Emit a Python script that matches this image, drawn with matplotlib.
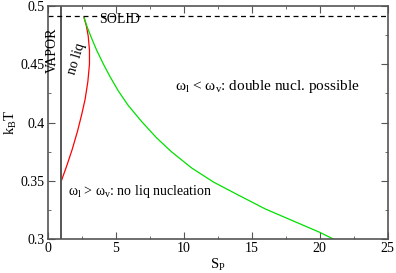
import matplotlib
matplotlib.use("Agg")
import matplotlib.pyplot as plt
from matplotlib.ticker import MultipleLocator, FormatStrFormatter

plt.rcParams["font.family"] = ["Liberation Serif", "DejaVu Serif"]
plt.rcParams["mathtext.fontset"] = "custom"
plt.rcParams["mathtext.rm"] = "Liberation Serif"

# red boundary: no liquid nucleation limit
red_sp = [1.0, 1.4, 1.8, 2.2, 2.5, 2.75, 2.95, 3.07, 3.07, 2.98, 2.84, 2.67]
red_t = [0.35, 0.363, 0.377, 0.393, 0.407, 0.42, 0.435, 0.45, 0.462, 0.474, 0.483, 0.49]

# green boundary: double nucleation limit
green_sp = [2.67, 2.9, 3.2, 3.6, 4.1, 4.6, 5.2, 5.9, 6.9, 8.0, 9.1, 10.6,
            12.2, 14.0, 16.0, 18.0, 20.0, 21.05]
green_t = [0.49, 0.482, 0.473, 0.462, 0.45, 0.439, 0.427, 0.415, 0.401, 0.387,
           0.375, 0.361, 0.349, 0.338, 0.326, 0.316, 0.306, 0.30]

vapor_sp = 1.0
solid_t = 0.491

fig = plt.figure(figsize=(3.96, 2.73), dpi=100)
ax = fig.add_axes([0.1205, 0.1234, 0.8585, 0.855])

ax.plot(red_sp, red_t, color="red", lw=0.9)
ax.plot(green_sp, green_t, color="#00e000", lw=0.9)
ax.axvline(vapor_sp, color="#555555", lw=1.4)
ax.axhline(solid_t, color="black", lw=0.9, ls=(0, (4, 3)))

ax.text(3.8, 0.4855, "SOLID", fontsize=10, va="baseline")
ax.text(0.35, 0.462, "VAPOR", fontsize=10, rotation=90, ha="center", va="center")
ax.text(2.1, 0.455, "no liq", fontsize=10, rotation=73, ha="center", va="center")
ax.text(9.35, 0.4306, r"ω$_\mathrm{l}$ < ω$_\mathrm{v}$: double nucl. possible",
        fontsize=11, va="center")
ax.text(1.5, 0.341, r"ω$_\mathrm{l}$ > ω$_\mathrm{v}$: no liq nucleation",
        fontsize=10, va="center")

ax.set_xlim(0, 25)
ax.set_ylim(0.3, 0.5)
ax.xaxis.set_major_locator(MultipleLocator(5))
ax.xaxis.set_minor_locator(MultipleLocator(2.5))
ax.yaxis.set_major_locator(MultipleLocator(0.05))
ax.yaxis.set_minor_locator(MultipleLocator(0.025))
ax.yaxis.set_major_formatter(FormatStrFormatter("%g"))
ax.tick_params(which="both", direction="in", top=True, right=True, labelsize=10,
               color="#555555", pad=2)
ax.tick_params(which="major", length=5)
ax.tick_params(which="minor", length=2.5)
for s in ax.spines.values():
    s.set_color("#555555")
    s.set_linewidth(1.2)

ax.set_xlabel(r"S$_\mathrm{P}$", fontsize=10.5, labelpad=1)
ax.set_ylabel(r"k$_\mathrm{B}$T", fontsize=10.5, labelpad=1)

fig.savefig("out.png", dpi=100)
